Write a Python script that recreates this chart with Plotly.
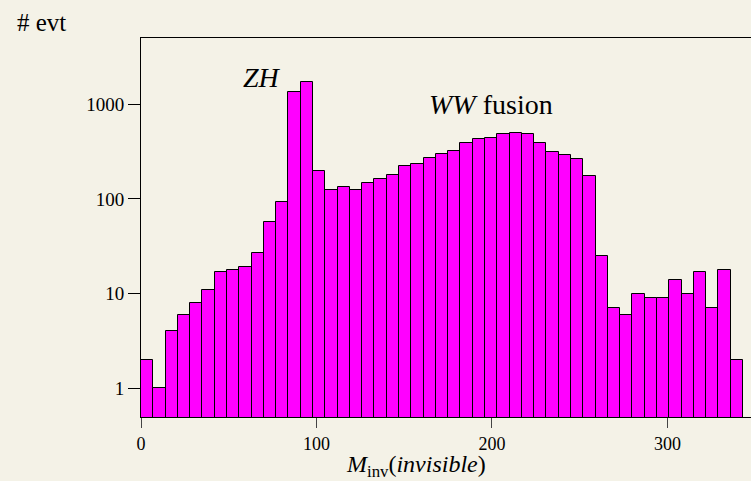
import plotly.graph_objects as go
import numpy as np

# Histogram of invisible invariant mass, bin width 7 (0..343)
bin_width = 7
counts = [2, 1, 4, 6, 8, 11, 17, 18, 19, 27,
          57, 92, 1330, 1730, 199, 123, 133, 123, 146, 161,
          178, 223, 234, 271, 296, 323, 386, 429, 436, 481,
          493, 485, 386, 310, 291, 266, 175, 25, 7, 6,
          10, 9, 9, 14, 10, 17, 7, 18, 2]
bin_centers = [bin_width * (i + 0.5) for i in range(len(counts))]

x_ticks = [0, 100, 200, 300]
y_ticks = [1, 10, 100, 1000]

FONT = "Liberation Serif, Times New Roman, serif"
BG = "#f4f2e7"

fig = go.Figure()
fig.add_trace(go.Bar(
    x=bin_centers, y=counts, width=bin_width,
    marker=dict(color="#ff00ff", line=dict(color="black", width=1)),
    showlegend=False,
))

fig.update_layout(
    width=751, height=481,
    margin=dict(l=141, r=0, t=38, b=64),
    paper_bgcolor=BG, plot_bgcolor=BG,
    font=dict(family=FONT, size=19, color="black"),
    bargap=0,
    xaxis=dict(range=[0, 347.6], tickvals=x_ticks, ticks="outside", ticklen=10,
               tickcolor="#444", showline=True, linecolor="black", linewidth=1,
               mirror=True, showgrid=False, zeroline=False,
               tickfont=dict(family=FONT, size=18)),
    yaxis=dict(type="log", range=[np.log10(0.5), np.log10(5000)], tickvals=y_ticks,
               ticktext=[str(v) for v in y_ticks], ticks="outside", ticklen=12,
               tickcolor="black", showline=True, linecolor="black", linewidth=1,
               showgrid=False, zeroline=False,
               tickfont=dict(family=FONT, size=19)),
    annotations=[
        dict(text="<i>ZH</i>", x=69, y=3.287, xref="x", yref="y", showarrow=False,
             xanchor="center", yanchor="middle", font=dict(family=FONT, size=28)),
        dict(text="<i>WW</i> fusion", x=199.7, y=3.0, xref="x", yref="y", showarrow=False,
             xanchor="center", yanchor="middle", font=dict(family=FONT, size=28)),
        dict(text="# evt", x=-0.2066, y=1.04, xref="paper", yref="paper",
             xanchor="left", yanchor="middle", showarrow=False,
             font=dict(family=FONT, size=25)),
        dict(text="<i>M</i><sub>inv</sub>(<i>invisible</i>)", x=0.451, y=-0.129,
             xref="paper", yref="paper", xanchor="center", yanchor="middle",
             showarrow=False, font=dict(family=FONT, size=24)),
    ],
)

fig.write_html("out.html", config={"displayModeBar": False},
               post_script="document.body.style.margin='0px';document.body.style.padding='0px';")
